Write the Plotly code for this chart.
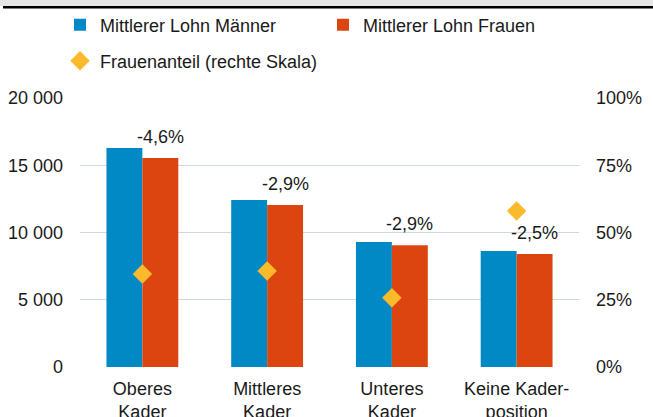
import plotly.graph_objects as go

categories = ["Oberes<br>Kader", "Mittleres<br>Kader", "Unteres<br>Kader", "Keine Kader-<br>position"]
lohn_maenner = [16280, 12420, 9290, 8620]
lohn_frauen = [15540, 12050, 9060, 8400]
frauenanteil = [34.6, 35.7, 25.7, 58.0]
differenz_labels = ["-4,6%", "-2,9%", "-2,9%", "-2,5%"]

left_tickvals = [0, 5000, 10000, 15000, 20000]
left_ticktext = ["0", "5 000", "10 000", "15 000", "20 000"]
right_tickvals = [0, 25, 50, 75, 100]
right_ticktext = ["0%", "25%", "50%", "75%", "100%"]

BLUE = "#0089C4"
ORANGE = "#DC4510"
YELLOW = "#FBBA2B"
GRID = "#C9DAE3"
FONT = "Arial, Liberation Sans, sans-serif"
FS = 18

W, H = 653, 417
ML, MR, MT, MB = 80, 74, 98, 50

fig = go.Figure()
fig.add_trace(go.Bar(x=categories, y=lohn_maenner, name="Mittlerer Lohn Männer",
                     marker=dict(color=BLUE, line=dict(width=0)), legend="legend"))
fig.add_trace(go.Bar(x=categories, y=lohn_frauen, name="Mittlerer Lohn Frauen",
                     marker=dict(color=ORANGE, line=dict(width=0)), legend="legend2"))
fig.add_trace(go.Scatter(x=categories, y=frauenanteil, name="Frauenanteil (rechte Skala)",
                         mode="markers", yaxis="y2",
                         marker=dict(symbol="diamond", size=15, color=YELLOW),
                         legend="legend3"))

for c, v, t in zip(categories, lohn_frauen, differenz_labels):
    fig.add_annotation(x=c, y=v, text=t, showarrow=False, xref="x", yref="y",
                       xanchor="center", yanchor="bottom", xshift=18, yshift=9,
                       font=dict(family=FONT, size=FS, color="#1a1a1a"))

pw = W - ML - MR
ph = H - MT - MB
def px_x(x):
    return (x - ML) / pw
def px_y(y):
    return (H - MB - y) / ph

fig.add_shape(type="rect", xref="paper", yref="paper",
              x0=px_x(-1), x1=px_x(W + 1), y0=px_y(6), y1=px_y(-1),
              fillcolor="#E6E6E6", line=dict(width=0), layer="above")
fig.add_shape(type="line", xref="paper", yref="paper",
              x0=px_x(3), x1=px_x(W + 1), y0=px_y(7.2), y1=px_y(7.2),
              line=dict(color="#000000", width=2.6))

def leg(xpix, ypix):
    return dict(orientation="h", xref="container", yref="container",
                x=xpix / W, y=1 - ypix / H, xanchor="left", yanchor="middle",
                font=dict(size=FS), bgcolor="rgba(0,0,0,0)", borderwidth=0)

fig.update_layout(
    width=W, height=H,
    margin=dict(l=ML, r=MR, t=MT, b=MB, autoexpand=False),
    paper_bgcolor="white", plot_bgcolor="white",
    font=dict(family=FONT, size=FS, color="#1a1a1a"),
    barmode="group", bargap=0.424, bargroupgap=0,
    xaxis=dict(showgrid=False, showline=False, ticks="", tickfont=dict(size=FS),
               ticklabelstandoff=9),
    yaxis=dict(range=[0, 20000], tickvals=left_tickvals, ticktext=left_ticktext,
               showgrid=True, gridcolor=GRID, gridwidth=1.3, zeroline=False,
               showline=False, ticks="", ticklabelstandoff=16),
    yaxis2=dict(range=[0, 100], tickvals=right_tickvals, ticktext=right_ticktext,
                overlaying="y", side="right", showgrid=False, zeroline=False,
                showline=False, ticks="", ticklabelstandoff=16),
    legend=leg(60, 25),
    legend2=leg(323, 25),
    legend3=leg(60, 61),
    showlegend=True,
)

fig.write_html("out.html", config={"displayModeBar": False},
               post_script="document.body.style.margin='0';")
